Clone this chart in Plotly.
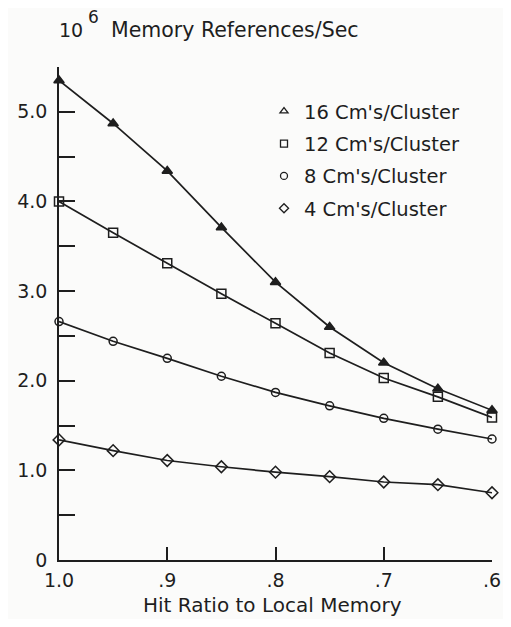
import plotly.graph_objects as go

hit_ratio = [1.0, 0.95, 0.9, 0.85, 0.8, 0.75, 0.7, 0.65, 0.6]
cm16 = [5.35, 4.87, 4.34, 3.71, 3.10, 2.60, 2.20, 1.91, 1.67]
cm12 = [4.00, 3.65, 3.31, 2.97, 2.64, 2.31, 2.03, 1.82, 1.59]
cm8 = [2.66, 2.44, 2.25, 2.05, 1.87, 1.72, 1.58, 1.46, 1.35]
cm4 = [1.34, 1.22, 1.11, 1.04, 0.98, 0.93, 0.87, 0.84, 0.75]

series_names = ["16 Cm's/Cluster", "12 Cm's/Cluster", "8 Cm's/Cluster", "4 Cm's/Cluster"]
series_vals = [cm16, cm12, cm8, cm4]
data_symbols = ["triangle-up", "square-open", "circle-open", "diamond-open"]
legend_symbols = ["triangle-up-open", "square-open", "circle-open", "diamond-open"]
sizes = [9, 9, 8, 9]

y_tickvals = [0, 0.5, 1.0, 1.5, 2.0, 2.5, 3.0, 3.5, 4.0, 4.5, 5.0, 5.5]
y_ticktext = ["0", "", "1.0", "", "2.0", "", "3.0", "", "4.0", "", "5.0", ""]
x_tickvals = [1.0, 0.9, 0.8, 0.7, 0.6]
x_ticktext = ["1.0", ".9", ".8", ".7", ".6"]

W, H = 503, 611
ML, MT = 51, 59
PW, PH = 433, 493
MR, MB = W - ML - PW, H - MT - PH
OFF = 8  # page body margin

ink = "#1e1e1e"
FONT = "DejaVu Sans, Verdana, sans-serif"
fig = go.Figure()
for name, vals, sym, sz in zip(series_names, series_vals, data_symbols, sizes):
    fig.add_trace(go.Scatter(
        x=hit_ratio, y=vals, mode="lines+markers", showlegend=False,
        line=dict(color=ink, width=1.7),
        marker=dict(symbol=sym, size=sz, color=ink, line=dict(color=ink, width=1.5)),
        cliponaxis=False,
    ))
for i, (name, sym) in enumerate(zip(series_names, legend_symbols)):
    fig.add_trace(go.Scatter(
        x=[None], y=[None], mode="markers", name=name, legendgroup=str(i),
        marker=dict(symbol=sym, size=7, color=ink, line=dict(color=ink, width=1.3)),
    ))

fig.update_layout(
    width=W, height=H,
    margin=dict(l=ML, r=MR, t=MT, b=MB),
    paper_bgcolor="#fbfbfa", plot_bgcolor="#fbfbfa",
    font=dict(family=FONT, color=ink, size=19),
    xaxis=dict(range=[1.0, 0.6], showgrid=False, zeroline=False, showline=True,
               linecolor=ink, linewidth=1.5, ticks="inside", ticklen=13, tickwidth=1.5,
               tickcolor=ink, tickvals=x_tickvals, ticktext=x_ticktext,
               tickfont=dict(size=19), ticklabelstandoff=2, ticklabeloverflow="allow",
               automargin=False),
    yaxis=dict(range=[0, 5.5], showgrid=False, zeroline=False, showline=True,
               linecolor=ink, linewidth=1.5, ticks="inside", ticklen=16, tickwidth=1.5,
               tickcolor=ink, tickvals=y_tickvals, ticktext=y_ticktext,
               tickfont=dict(size=19), ticklabelstandoff=6, automargin=False),
    legend=dict(x=(264 - OFF - ML) / PW, y=1 - (92 - OFF - MT) / PH,
                xanchor="left", yanchor="top", bgcolor="rgba(0,0,0,0)",
                font=dict(size=19.5), tracegroupgap=4, itemwidth=30),
    showlegend=True,
)

def win_to_paper(x, y):
    return (x - OFF - ML) / PW, 1 - (y - OFF - MT) / PH

annots = [
    dict(text="10", x=57, y=30, xanchor="left", size=19),
    dict(text="6", x=86, y=17, xanchor="left", size=17),
    dict(text="Memory References/Sec", x=109, y=30, xanchor="left", size=20.5),
    dict(text="Hit Ratio to Local Memory", x=272, y=605, xanchor="center", size=20),
]
for a in annots:
    px, py = win_to_paper(a["x"], a["y"])
    fig.add_annotation(
        text=a["text"], x=px, y=py, xref="paper", yref="paper",
        xanchor=a["xanchor"], yanchor="middle", showarrow=False,
        font=dict(size=a["size"], color=ink),
    )

fig.write_html("out.html")
